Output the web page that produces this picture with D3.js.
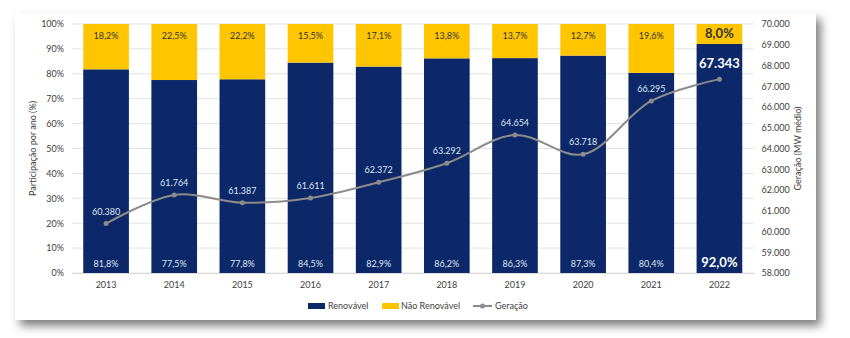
<!DOCTYPE html>
<html><head><meta charset="utf-8">
<script src="https://cdn.jsdelivr.net/npm/d3@7"></script>
<style>
html,body{margin:0;padding:0;background:#fff;}
svg{display:block;font-family:Lato,"Open Sans",sans-serif;}
</style></head><body>
<svg id="c" width="850" height="338"></svg>
<script>
const years = ["2013","2014","2015","2016","2017","2018","2019","2020","2021","2022"];
const renovavel = [81.8,77.5,77.8,84.5,82.9,86.2,86.3,87.3,80.4,92.0];
const naoRenovavel = [18.2,22.5,22.2,15.5,17.1,13.8,13.7,12.7,19.6,8.0];
const geracao = [60380,61764,61387,61611,62372,63292,64654,63718,66295,67343];
const leftTicks = [0,10,20,30,40,50,60,70,80,90,100];
const rightTicks = [58000,59000,60000,61000,62000,63000,64000,65000,66000,67000,68000,69000,70000];

const svg = d3.select("#c");
const defs = svg.append("defs");
const f = defs.append("filter").attr("id","sh").attr("x","-5%").attr("y","-5%").attr("width","115%").attr("height","125%");
f.append("feDropShadow").attr("dx",5).attr("dy",6).attr("stdDeviation",5).attr("flood-color","#000").attr("flood-opacity",0.5);
svg.append("rect").attr("x",15).attr("y",13).attr("width",801).attr("height",307).attr("fill","#fff").attr("filter","url(#sh)");

const L=72,R=753.5,T=24,B=273;
const x = d3.scaleBand().domain(years).range([L,R]).paddingInner(0.33).paddingOuter(0.165);
const y = d3.scaleLinear().domain([0,100]).range([B,T]);
const y2 = d3.scaleLinear().domain([58000,70000]).range([B,T]);

const fmtPct = v => d3.format(".1f")(v).replace(".",",")+"%";
const fmtNum = v => d3.format(",")(v).replace(/,/g,".");
const txt = "#404040";

// gridlines
svg.append("g").selectAll("line").data(leftTicks).join("line")
  .attr("x1",L).attr("x2",R).attr("y1",d=>y(d)).attr("y2",d=>y(d))
  .attr("stroke","#e2e2e2").attr("stroke-width",1);

// left axis
const ga = svg.append("g").attr("transform",`translate(${L},0)`)
  .call(d3.axisLeft(y).tickValues(leftTicks).tickFormat(d=>d+"%").tickSize(0).tickPadding(8));
ga.select(".domain").remove();
ga.selectAll("text").attr("font-size",9).attr("fill",txt).attr("font-family","Lato,'Open Sans',sans-serif");

// right axis
const gr = svg.append("g").attr("transform",`translate(${R},0)`)
  .call(d3.axisRight(y2).tickValues(rightTicks).tickFormat(fmtNum).tickSize(0).tickPadding(8));
gr.select(".domain").remove();
gr.selectAll("text").attr("font-size",9).attr("fill",txt).attr("font-family","Lato,'Open Sans',sans-serif");

// x axis
const gx = svg.append("g").attr("transform",`translate(0,${B})`)
  .call(d3.axisBottom(x).tickSize(0).tickPadding(9));
gx.select(".domain").attr("stroke","#d9d9d9");
gx.selectAll("text").attr("font-size",9).attr("fill",txt).attr("font-family","Lato,'Open Sans',sans-serif");

// axis titles
svg.append("text").attr("transform",`translate(36,${(T+B)/2}) rotate(-90)`).attr("text-anchor","middle")
  .attr("font-size",9).attr("fill",txt).text("Participação por ano (%)");
svg.append("text").attr("transform",`translate(801,${(T+B)/2}) rotate(-90)`).attr("text-anchor","middle")
  .attr("font-size",9).attr("fill",txt).text("Geração (MW médio)");

// bars
const navy="#0c2868", yellow="#ffc600";
svg.append("g").selectAll("rect").data(years).join("rect")
  .attr("x",d=>x(d)).attr("width",x.bandwidth())
  .attr("y",(d,i)=>y(renovavel[i])).attr("height",(d,i)=>B-y(renovavel[i])).attr("fill",navy);
svg.append("g").selectAll("rect").data(years).join("rect")
  .attr("x",d=>x(d)).attr("width",x.bandwidth())
  .attr("y",(d,i)=>y(renovavel[i]+naoRenovavel[i])).attr("height",(d,i)=>y(renovavel[i])-y(renovavel[i]+naoRenovavel[i])).attr("fill",yellow);

const last = years.length-1;
// bar labels
svg.append("g").selectAll("text").data(years).join("text")
  .attr("x",d=>x(d)+x.bandwidth()/2).attr("y",(d,i)=>i===last?y(100)+14:y(100)+14.5)
  .attr("text-anchor","middle").attr("fill","#333")
  .attr("font-size",(d,i)=>i===last?13:9).attr("font-weight",(d,i)=>i===last?"bold":"normal")
  .text((d,i)=>fmtPct(naoRenovavel[i]));
svg.append("g").selectAll("text").data(years).join("text")
  .attr("x",d=>x(d)+x.bandwidth()/2).attr("y",B-6)
  .attr("text-anchor","middle").attr("fill",(d,i)=>i===last?"#fff":"#dfe6f5")
  .attr("font-size",(d,i)=>i===last?13:9).attr("font-weight",(d,i)=>i===last?"bold":"normal")
  .text((d,i)=>fmtPct(renovavel[i]));

// line
const cx = d=>x(d)+x.bandwidth()/2;
const line = d3.line().x((d,i)=>cx(years[i])).y(d=>y2(d)).curve(d3.curveCatmullRom.alpha(0.5));
svg.append("path").datum(geracao).attr("d",line).attr("fill","none").attr("stroke","#8c8c8c").attr("stroke-width",2);
svg.append("g").selectAll("circle").data(geracao).join("circle")
  .attr("cx",(d,i)=>cx(years[i])).attr("cy",d=>y2(d)).attr("r",2.5).attr("fill","#8c8c8c");
svg.append("g").selectAll("text").data(geracao).join("text")
  .attr("x",(d,i)=>cx(years[i])).attr("y",(d,i)=>i===last?y2(d)-11:y2(d)-9)
  .attr("text-anchor","middle").attr("fill",(d,i)=>i===last?"#fff":"#dfe6f5")
  .attr("font-size",(d,i)=>i===last?13:9).attr("font-weight",(d,i)=>i===last?"bold":"normal")
  .text(d=>fmtNum(d));

// legend
const lg = svg.append("g").attr("font-size",9).attr("fill",txt);
lg.append("rect").attr("x",308).attr("y",303).attr("width",17).attr("height",6).attr("fill",navy);
lg.append("text").attr("x",328).attr("y",309).text("Renovável");
lg.append("rect").attr("x",382).attr("y",303).attr("width",17).attr("height",6).attr("fill",yellow);
lg.append("text").attr("x",401).attr("y",309).text("Não Renovável");
lg.append("line").attr("x1",473).attr("x2",492).attr("y1",306).attr("y2",306).attr("stroke","#8c8c8c").attr("stroke-width",2);
lg.append("circle").attr("cx",482.5).attr("cy",306).attr("r",2.5).attr("fill","#8c8c8c");
lg.append("text").attr("x",495).attr("y",309).text("Geração");
</script></body></html>
